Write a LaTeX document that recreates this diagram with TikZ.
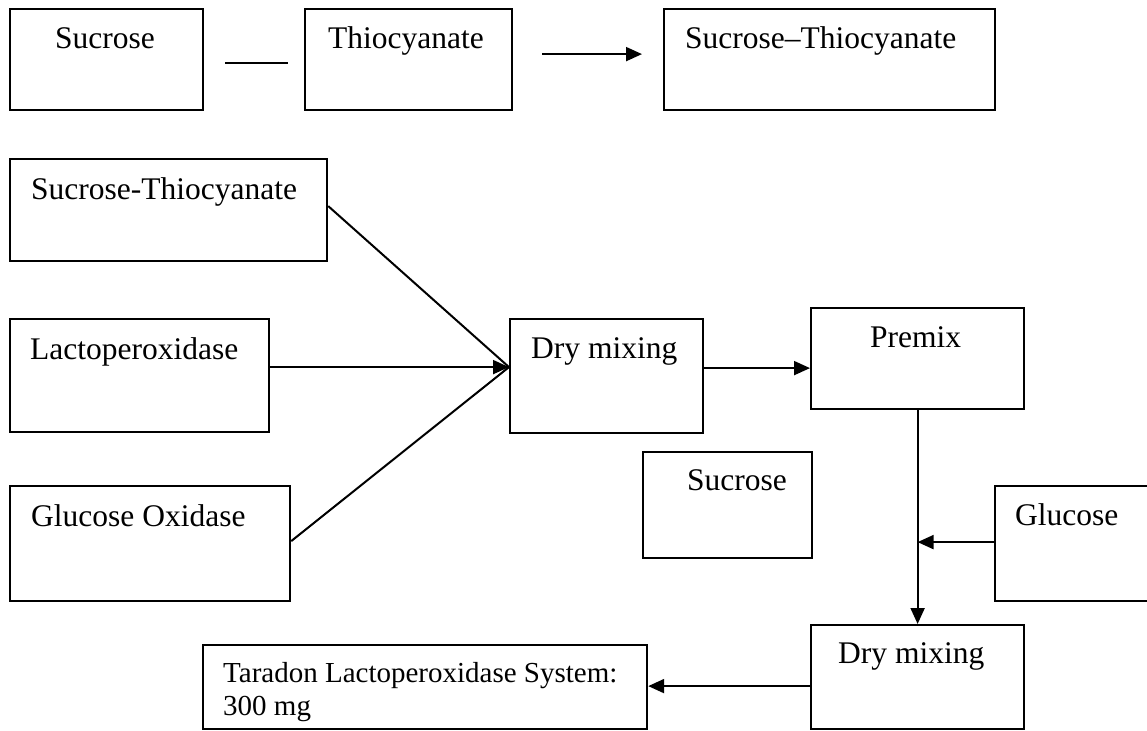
\documentclass[tikz,border=0pt]{standalone}
\usepackage{fontspec}
\setmainfont{Liberation Serif}
\usetikzlibrary{arrows.meta,calc}
\begin{document}
\begin{tikzpicture}[x=1pt,y=-1pt,
  box/.style={draw,line width=2.2pt,inner sep=0pt,anchor=north west},
  txt/.style={anchor=base west,inner sep=0pt,font=\fontsize{31.5}{33}\selectfont},
  stxt/.style={anchor=base west,inner sep=0pt,font=\fontsize{29}{33}\selectfont},
  conn/.style={line width=2pt},
  arr/.style={line width=2pt,-{Triangle[length=16pt,width=14pt]}}]
\fill[white] (0,0) rectangle (1147,730);
\useasboundingbox (0,0) rectangle (1147,730);
% top row
\node[box,minimum width=193pt,minimum height=101pt] (b1) at (9,8) {};
\node[box,minimum width=207pt,minimum height=101pt] (b2) at (304,8) {};
\node[box,minimum width=331pt,minimum height=101pt] (b3) at (663,8) {};
\node[txt] (t1) at (55,49) {Sucrose};
\node[txt] (t2) at (328,49) {Thiocyanate};
\node[txt] (t3) at (685,49) {Sucrose–Thiocyanate};
\draw[conn] ([xshift=21pt,yshift=-3.5pt]b1.east) -- ([xshift=-16pt,yshift=-3.5pt]b2.west);
\draw[arr] ([xshift=29pt,yshift=5.5pt]b2.east) -- ([xshift=-21pt,yshift=5.5pt]b3.west);
% left column
\node[box,minimum width=317pt,minimum height=102pt] (st) at (9,158) {};
\node[box,minimum width=259pt,minimum height=113pt] (lac) at (9,318) {};
\node[box,minimum width=280pt,minimum height=115pt] (go) at (9,485) {};
\node[txt] (t4) at (31,199) {Sucrose-Thiocyanate};
\node[txt] (t5) at (30,359) {Lactoperoxidase};
\node[txt] (t6) at (31,526) {Glucose Oxidase};
% middle / right
\node[box,minimum width=193pt,minimum height=114pt] (dry1) at (509,318) {};
\node[box,minimum width=213pt,minimum height=101pt] (pre) at (810,307) {};
\node[box,minimum width=169pt,minimum height=106pt] (suc) at (642,451) {};
\node[box,minimum width=153pt,minimum height=115pt] (glu) at (994,485) {};
\node[box,minimum width=213pt,minimum height=104pt] (dry2) at (810,624) {};
\node[box,minimum width=444pt,minimum height=84pt] (tar) at (202,644) {};
\node[txt] (t7) at (531,358) {Dry mixing};
\node[txt] (t8) at (870,347) {Premix};
\node[txt] (t9) at (687,490) {Sucrose};
\node[txt] (t10) at (1015,525) {Glucose};
\node[txt] (t11) at (838,663) {Dry mixing};
\node[stxt] (t12) at (223,682) {Taradon Lactoperoxidase System:};
\node[stxt] (t13) at (223,715) {300 mg};
% connectors
\coordinate (din) at ([yshift=9pt]dry1.west);
\coordinate (dout) at ([yshift=8pt]dry1.east);
\coordinate (d2out) at ([yshift=-9pt]dry2.west);
\draw[conn] ([yshift=4pt]st.east) -- (din);
\draw[conn] ([yshift=2.5pt]go.east) -- (din);
\draw[arr] (lac.east |- din) -- (din);
\draw[arr] (dout) -- (pre.west |- dout);
\draw[arr] (pre.south) -- (dry2.north);
\coordinate (j) at (pre.south |- glu.west);
\draw[arr] ([yshift=1.5pt]glu.west) -- ([yshift=1.5pt]j);
\draw[arr] (d2out) -- (tar.east |- d2out);
\end{tikzpicture}
\end{document}
